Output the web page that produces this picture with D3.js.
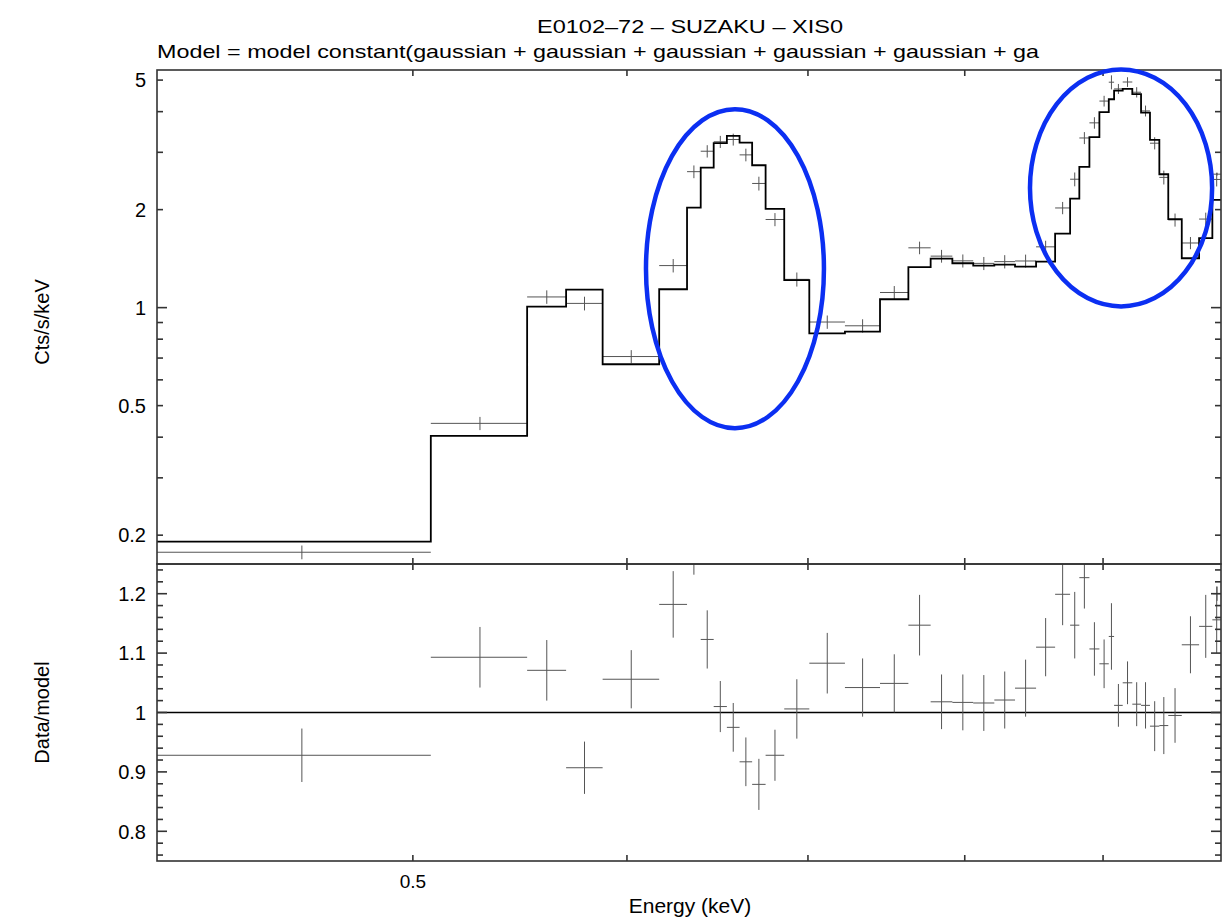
<!DOCTYPE html>
<html>
<head>
<meta charset="utf-8">
<script src="https://cdn.jsdelivr.net/npm/d3@7"></script>
<style>
  body { margin: 0; background: #fff; }
  text { font-family: "Liberation Sans", Arial, Helvetica, sans-serif; fill: #000; }
</style>
</head>
<body>
<svg id="chart" width="1231" height="919"></svg>
<script>
// ---- Spectrum: E0102-72, Suzaku XIS0 ----
// Channel-group edges (keV)
const binLo = [0.4021, 0.5077, 0.5511, 0.5697, 0.5877, 0.6167, 0.6315, 0.6389, 0.6460, 0.6533,
               0.6604, 0.6675, 0.6752, 0.6860, 0.7008, 0.7224, 0.7443, 0.7625, 0.7771, 0.7916,
               0.8058, 0.8204, 0.8350, 0.8501, 0.8640, 0.8751, 0.8820, 0.8896, 0.8972, 0.9044,
               0.9085, 0.9152, 0.9227, 0.9296, 0.9367, 0.9442, 0.9514, 0.9624, 0.9767, 0.9878,
               0.9885];
const binHi = [0.5077, 0.5511, 0.5697, 0.5877, 0.6167, 0.6315, 0.6389, 0.6460, 0.6533, 0.6604,
               0.6675, 0.6752, 0.6860, 0.7008, 0.7224, 0.7443, 0.7625, 0.7771, 0.7916, 0.8058,
               0.8204, 0.8350, 0.8501, 0.8640, 0.8751, 0.8820, 0.8896, 0.8972, 0.9044, 0.9085,
               0.9152, 0.9227, 0.9296, 0.9367, 0.9442, 0.9514, 0.9624, 0.9767, 0.9878, 0.9951,
               0.9951];
// Folded model (counts/s/keV)
const modelRate = [0.1910, 0.4035, 1.007, 1.136, 0.670, 1.139, 2.028, 2.692, 3.200, 3.369,
                   3.213, 2.738, 2.010, 1.214, 0.834, 0.844, 1.061, 1.331, 1.414, 1.369,
                   1.346, 1.356, 1.336, 1.385, 1.688, 2.162, 2.706, 3.338, 3.984, 4.367,
                   4.642, 4.698, 4.525, 3.973, 3.275, 2.569, 1.869, 1.418, 1.634, 2.142,
                   2.142];
// Data / model and its 1-sigma error
const ratio = [0.928, 1.093, 1.071, 0.907, 1.056, 1.182, 1.290, 1.123, 1.010, 0.975,
               0.917, 0.879, 0.928, 1.006, 1.083, 1.042, 1.049, 1.147, 1.018, 1.017,
               1.016, 1.021, 1.041, 1.110, 1.199, 1.147, 1.227, 1.107, 1.082, 1.128,
               1.012, 1.050, 1.014, 1.012, 0.977, 0.978, 0.995, 1.114, 1.145, 1.156,
               1.200];
const ratioErr = [0.045, 0.051, 0.051, 0.044, 0.049, 0.056, 0.058, 0.049, 0.043, 0.041,
                  0.041, 0.043, 0.043, 0.050, 0.051, 0.049, 0.049, 0.051, 0.046, 0.047,
                  0.047, 0.048, 0.048, 0.049, 0.052, 0.056, 0.052, 0.045, 0.041, 0.056,
                  0.036, 0.036, 0.037, 0.039, 0.042, 0.048, 0.046, 0.048, 0.053, 0.056,
                  0.012];

// Axis ticks
const xTickValues = [0.5, 0.6, 0.7, 0.8, 0.9];
const xTickLabels = ["0.5", "", "", "", ""];
const topMajorTicks = [0.2, 0.5, 1, 2, 5];
const topMajorLabels = ["0.2", "0.5", "1", "2", "5"];
const topMinorTicks = [0.2, 0.3, 0.4, 0.5, 0.6, 0.7, 0.8, 0.9, 2, 3, 4, 5];
const topLongTicks = [1];
const botMajorTicks = [0.8, 0.9, 1, 1.1, 1.2];
const botMajorLabels = ["0.8", "0.9", "1", "1.1", "1.2"];
const botMinorTicks = [0.76, 0.78, 0.82, 0.84, 0.86, 0.88, 0.92, 0.94, 0.96, 0.98,
                       1.02, 1.04, 1.06, 1.08, 1.12, 1.14, 1.16, 1.18, 1.22, 1.24];

// Highlighted line complexes: [Elo, Ehi, rateLo, rateHi]
const highlights = [
  [0.6098, 0.7096, 0.4262, 4.07],
  [0.8457, 0.9876, 1.0085, 5.39]
];

const titleText = "E0102\u201372 \u2013 SUZAKU \u2013 XIS0";
const subtitleText = "Model = model constant(gaussian + gaussian + gaussian + gaussian + gaussian + ga";

// ---- layout ----
const L = 157, R = 1221, T1 = 70, B1 = 564, T2 = 564, B2 = 861;

const x = d3.scaleLog().domain([0.4021, 0.9951]).range([L, R]);
const yTop = d3.scaleLog().domain([0.1631, 5.37]).range([B1, T1]);
const yBot = d3.scaleLinear().domain([0.75, 1.25]).range([B2, T2]);

const svg = d3.select("#chart");

const bins = binLo.map((lo, i) => {
  const hi = binHi[i];
  const m = modelRate[i];
  return {
    lo, hi, mid: (lo + hi) / 2, model: m,
    ratio: ratio[i], rerr: ratioErr[i],
    data: ratio[i] * m, derr: ratioErr[i] * m
  };
});

const defs = svg.append("defs");
defs.append("clipPath").attr("id", "clipTop")
  .append("rect").attr("x", L).attr("y", T1).attr("width", R - L).attr("height", B1 - T1);
defs.append("clipPath").attr("id", "clipBot")
  .append("rect").attr("x", L).attr("y", T2).attr("width", R - L).attr("height", B2 - T2);

// ---- top panel: data crosses ----
const gTop = svg.append("g").attr("clip-path", "url(#clipTop)");
const crossColor = "#555";
bins.forEach(b => {
  gTop.append("line")
    .attr("x1", x(b.lo)).attr("x2", x(b.hi))
    .attr("y1", yTop(b.data)).attr("y2", yTop(b.data))
    .attr("stroke", crossColor).attr("stroke-width", 1);
  gTop.append("line")
    .attr("x1", x(b.mid)).attr("x2", x(b.mid))
    .attr("y1", yTop(b.data - b.derr)).attr("y2", yTop(b.data + b.derr))
    .attr("stroke", crossColor).attr("stroke-width", 1);
});

// model histogram
const stepPts = [];
bins.forEach(b => { stepPts.push([b.lo, b.model]); stepPts.push([b.hi, b.model]); });
gTop.append("path")
  .attr("d", d3.line().x(d => x(d[0])).y(d => yTop(d[1]))(stepPts))
  .attr("fill", "none").attr("stroke", "#000").attr("stroke-width", 1.8)
  .attr("stroke-linejoin", "miter");

// ---- bottom panel: ratio ----
const gBot = svg.append("g").attr("clip-path", "url(#clipBot)");
gBot.append("line")
  .attr("x1", L).attr("x2", R).attr("y1", yBot(1)).attr("y2", yBot(1))
  .attr("stroke", "#000").attr("stroke-width", 1.6);
bins.forEach(b => {
  gBot.append("line")
    .attr("x1", x(b.lo)).attr("x2", x(b.hi))
    .attr("y1", yBot(b.ratio)).attr("y2", yBot(b.ratio))
    .attr("stroke", crossColor).attr("stroke-width", 1);
  gBot.append("line")
    .attr("x1", x(b.mid)).attr("x2", x(b.mid))
    .attr("y1", yBot(b.ratio - b.rerr)).attr("y2", yBot(b.ratio + b.rerr))
    .attr("stroke", crossColor).attr("stroke-width", 1);
});

// ---- frames and ticks ----
const axisColor = "#333";
const axG = svg.append("g").attr("stroke", axisColor).attr("stroke-width", 1.6);
[[T1, B1], [T2, B2]].forEach(([t, b]) => {
  axG.append("rect").attr("x", L).attr("y", t).attr("width", R - L).attr("height", b - t)
    .attr("fill", "none");
  xTickValues.forEach(v => {
    axG.append("line").attr("x1", x(v)).attr("x2", x(v)).attr("y1", b).attr("y2", b - 6);
    axG.append("line").attr("x1", x(v)).attr("x2", x(v)).attr("y1", t).attr("y2", t + 6);
  });
});
function yTicks(scale, vals, len) {
  vals.forEach(v => {
    const yy = scale(v);
    axG.append("line").attr("x1", L).attr("x2", L + len).attr("y1", yy).attr("y2", yy);
    axG.append("line").attr("x1", R).attr("x2", R - len).attr("y1", yy).attr("y2", yy);
  });
}
yTicks(yTop, topMinorTicks, 6);
yTicks(yTop, topLongTicks, 10);
yTicks(yBot, botMinorTicks, 6);
yTicks(yBot, botMajorTicks, 10);

// tick labels
const lab = svg.append("g").attr("font-size", 20);
topMajorTicks.forEach((v, i) => {
  lab.append("text").attr("x", 146).attr("y", yTop(v)).attr("dy", "0.36em")
    .attr("text-anchor", "end").text(topMajorLabels[i]);
});
botMajorTicks.forEach((v, i) => {
  lab.append("text").attr("x", 146).attr("y", yBot(v)).attr("dy", "0.36em")
    .attr("text-anchor", "end").text(botMajorLabels[i]);
});
xTickValues.forEach((v, i) => {
  if (xTickLabels[i]) {
    lab.append("text").attr("x", x(v)).attr("y", 888)
      .attr("text-anchor", "middle").attr("font-size", 19).text(xTickLabels[i]);
  }
});

// axis titles
svg.append("text").attr("transform", `translate(49,${(T1 + B1) / 2 + 5}) rotate(-90)`)
  .attr("text-anchor", "middle").attr("font-size", 20).text("Cts/s/keV");
svg.append("text").attr("transform", `translate(49,${(T2 + B2) / 2 + 0}) rotate(-90)`)
  .attr("text-anchor", "middle").attr("font-size", 20).text("Data/model");
svg.append("text").attr("x", 690).attr("y", 913).attr("text-anchor", "middle")
  .attr("font-size", 21).text("Energy (keV)");

// titles
svg.append("text").attr("x", 690).attr("y", 33).attr("text-anchor", "middle")
  .attr("font-size", 18).attr("textLength", 306).attr("lengthAdjust", "spacingAndGlyphs")
  .text(titleText);
svg.append("text").attr("x", 157).attr("y", 58)
  .attr("font-size", 18.5).attr("textLength", 882).attr("lengthAdjust", "spacingAndGlyphs")
  .text(subtitleText);

// ---- highlight ellipses ----
highlights.forEach(([e0, e1, r0, r1]) => {
  const x0 = x(e0), x1 = x(e1), y0 = yTop(r1), y1 = yTop(r0);
  svg.append("ellipse")
    .attr("cx", (x0 + x1) / 2).attr("cy", (y0 + y1) / 2)
    .attr("rx", (x1 - x0) / 2).attr("ry", (y1 - y0) / 2)
    .attr("fill", "none").attr("stroke", "#0b2ff2").attr("stroke-width", 4.5);
});
</script>
</body>
</html>
